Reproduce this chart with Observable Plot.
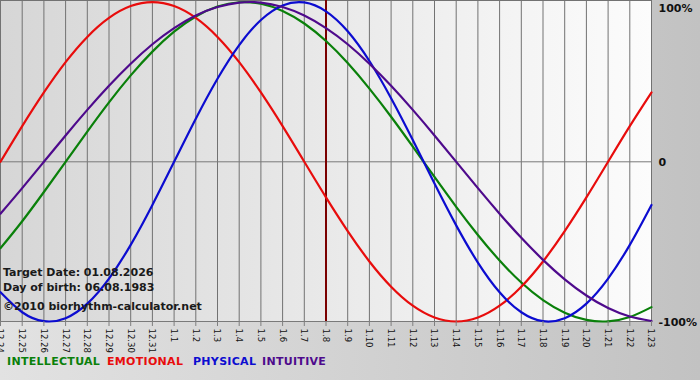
<!DOCTYPE html>
<html><head><meta charset="utf-8">
<script src="https://cdn.jsdelivr.net/npm/d3@7"></script>
<script src="https://cdn.jsdelivr.net/npm/@observablehq/plot@0.6"></script>
<style>
body{margin:0;}
#wrap{position:relative;width:700px;height:380px;overflow:hidden;background:linear-gradient(to right,#e2e2e2,#c2c2c2);font-family:"DejaVu Sans",Verdana,sans-serif;color:#000;}
#area{position:absolute;left:0;top:0;width:651px;height:321px;background:linear-gradient(to right,#d6d6d6,#fcfcfc);}
#chart{position:absolute;left:0;top:0;}
.info{position:absolute;left:3px;font-weight:bold;font-size:11px;color:#1a1a1a;white-space:nowrap;}
.leg{position:absolute;top:355px;font-weight:bold;font-size:11px;letter-spacing:0.3px;white-space:nowrap;}
</style></head>
<body>
<div id="wrap">
  <div id="area"></div>
  <div id="chart"></div>
  <div class="info" style="top:266px">Target Date: 01.08.2026</div>
  <div class="info" style="top:281px">Day of birth: 06.08.1983</div>
  <div class="info" style="top:300px">©2010 biorhythm-calculator.net</div>
  <div id="legend"></div>
</div>
<script>
const days = ["12.24","12.25","12.26","12.27","12.28","12.29","12.30","12.31","1.1","1.2","1.3","1.4","1.5","1.6","1.7","1.8","1.9","1.10","1.11","1.12","1.13","1.14","1.15","1.16","1.17","1.18","1.19","1.20","1.21","1.22","1.23"];
const targetDay = "1.8";
const intellectual = [-0.541,-0.372,-0.189,0,0.189,0.372,0.541,0.690,0.815,0.910,0.972,0.999,0.990,0.945,0.866,0.756,0.618,0.458,0.282,0.095,-0.095,-0.282,-0.458,-0.618,-0.756,-0.866,-0.945,-0.990,-0.999,-0.972,-0.910];
const emotional = [0,0.223,0.434,0.624,0.782,0.901,0.975,1,0.975,0.901,0.782,0.624,0.434,0.223,0,-0.223,-0.434,-0.624,-0.782,-0.901,-0.975,-1,-0.975,-0.901,-0.782,-0.624,-0.434,-0.223,0,0.223,0.434];
const physical = [-0.817,-0.942,-0.998,-0.979,-0.888,-0.731,-0.520,-0.270,0,0.270,0.520,0.731,0.888,0.979,0.998,0.942,0.817,0.631,0.398,0.136,-0.136,-0.398,-0.631,-0.817,-0.942,-0.998,-0.979,-0.888,-0.731,-0.520,-0.270];
const intuitive = [-0.325,-0.165,0,0.165,0.325,0.476,0.614,0.736,0.837,0.916,0.969,0.997,0.997,0.969,0.916,0.837,0.736,0.614,0.476,0.325,0.165,0,-0.165,-0.325,-0.476,-0.614,-0.736,-0.837,-0.916,-0.969,-0.997];
const seriesNames = ["INTELLECTUAL","EMOTIONAL","PHYSICAL","INTUITIVE"];
const seriesColors = ["#0a800a","#e80c0c","#0c0cd0","#4e0a8c"];
const yTicks = [1, 0, -1];
const yTickLabels = ["100%","0","-100%"];

const seriesValues = [intellectual, emotional, physical, intuitive];
const rows = seriesValues.flatMap((vals, s) => vals.map((v, i) => ({series: seriesNames[s], day: days[i], value: v})));
const labelOf = d => yTickLabels[yTicks.indexOf(d)];

const chart = Plot.plot({
  width: 700, height: 352,
  marginLeft: 0, marginRight: 49, marginTop: 0, marginBottom: 31,
  style: {background: "transparent", overflow: "visible", fontFamily: "'DejaVu Sans', Verdana, sans-serif"},
  x: {type: "point", domain: days, padding: 0, round: false, label: null},
  y: {domain: [-1, 1.01], axis: null},
  color: {domain: seriesNames, range: seriesColors},
  marks: [
    Plot.ruleX(days, {stroke: "#727272", strokeWidth: 1}),
    Plot.frame({stroke: "#727272", strokeWidth: 1}),
    Plot.ruleY([0], {stroke: "#7a7a7a", strokeWidth: 1}),
    Plot.ruleY([-1], {stroke: "#7a7a7a", strokeWidth: 1}),
    Plot.ruleX([targetDay], {stroke: "#7a0000", strokeWidth: 2}),
    Plot.line(rows, {x: "day", y: "value", z: "series", stroke: "series", curve: "natural", strokeWidth: 2.2}),
    Plot.axisX({tickRotate: 90, tickSize: 5, tickPadding: 2, stroke: "#7f7f7f", fill: "#111", fontSize: 9.5, fontFamily: "'DejaVu Sans Condensed','DejaVu Sans',sans-serif", label: null}),
    Plot.text(yTicks, {filter: d => d === 1, y: d => d, text: labelOf, frameAnchor: "right", textAnchor: "start", lineAnchor: "top", dx: 7, dy: 2, fontWeight: "bold", fontSize: 11, fill: "#111"}),
    Plot.text(yTicks, {filter: d => d !== 1, y: d => d, text: labelOf, frameAnchor: "right", textAnchor: "start", dx: 7, dy: 1, fontWeight: "bold", fontSize: 11, fill: "#111"})
  ]
});
document.getElementById("chart").appendChild(chart);

const legendLeft = [7, 107, 193, 262];
const legend = document.getElementById("legend");
seriesNames.forEach((n, i) => {
  const s = document.createElement("span");
  s.className = "leg";
  s.style.left = legendLeft[i] + "px";
  s.style.color = seriesColors[i];
  s.textContent = n;
  legend.appendChild(s);
});
</script>
</body></html>
